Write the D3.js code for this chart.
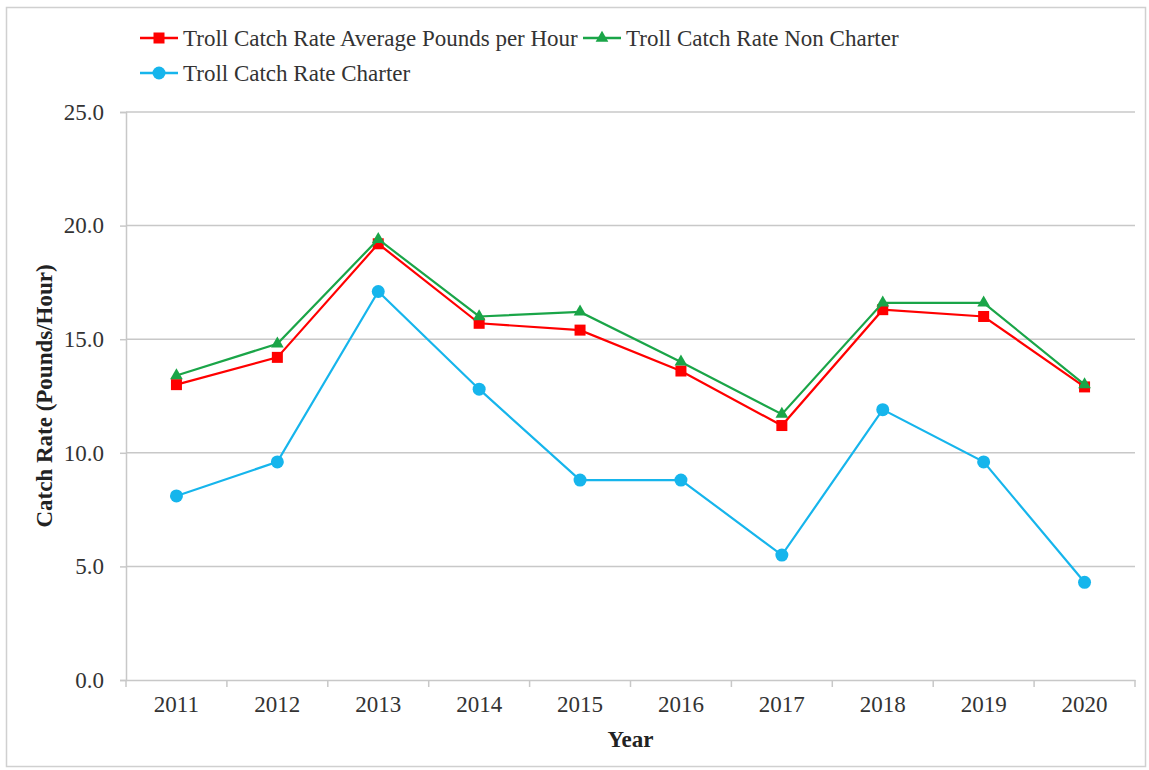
<!DOCTYPE html>
<html><head><meta charset="utf-8">
<script src="https://cdn.jsdelivr.net/npm/d3@7"></script>
<style>body{margin:0;background:#fff;} svg{display:block;font-family:"Liberation Serif","Times New Roman",serif;}</style>
</head><body>
<svg id="c" width="1149" height="770"></svg>
<script>
const years = ["2011","2012","2013","2014","2015","2016","2017","2018","2019","2020"];
const avgRate = [13.0,14.2,19.2,15.7,15.4,13.6,11.2,16.3,16.0,12.9];
const nonCharter = [13.4,14.8,19.4,16.0,16.2,14.0,11.7,16.6,16.6,13.0];
const charter = [8.1,9.6,17.1,12.8,8.8,8.8,5.5,11.9,9.6,4.3];
const yTicks = [0,5,10,15,20,25];
const seriesNames = ["Troll Catch Rate Average Pounds per Hour","Troll Catch Rate Non Charter","Troll Catch Rate Charter"];

const FS = 23;
const svg = d3.select("#c");
svg.append("rect").attr("x",6.5).attr("y",7.5).attr("width",1139).attr("height",759)
  .attr("fill","#fff").attr("stroke","#d0d0d0").attr("stroke-width",1.5);

const L=126, R=1135, T=112, B=680;
const x = d3.scaleBand().domain(years).range([L,R]);
const y = d3.scaleLinear().domain([0,25]).range([B,T]);

// grid
svg.append("g").selectAll("line").data(yTicks.filter(d=>d>0)).join("line")
  .attr("x1",L).attr("x2",R).attr("y1",d=>y(d)).attr("y2",d=>y(d))
  .attr("stroke","#c8c8c8").attr("stroke-width",1.5);

// y axis
const ya = svg.append("g").attr("transform",`translate(${L},0)`)
  .call(d3.axisLeft(y).tickValues(yTicks).tickFormat(d3.format(".1f")).tickSize(6).tickPadding(16));
ya.select(".domain").attr("stroke","#c8c8c8").attr("stroke-width",1.5);
ya.selectAll(".tick line").attr("stroke","#c8c8c8").attr("stroke-width",1.5);
ya.selectAll("text").attr("font-size",FS).attr("fill","#333").attr("font-family","Liberation Serif");

// x axis
const xa = svg.append("g").attr("transform",`translate(0,${B})`)
  .call(d3.axisBottom(x).tickSize(0).tickPadding(16));
xa.select(".domain").attr("stroke","#c8c8c8").attr("stroke-width",1.5);
xa.selectAll("text").attr("font-size",FS).attr("fill","#333").attr("font-family","Liberation Serif");
const bounds = years.map(d=>x(d)).concat([R]);
svg.append("g").selectAll("line").data(bounds).join("line")
  .attr("x1",d=>d).attr("x2",d=>d).attr("y1",B).attr("y2",B+7)
  .attr("stroke","#c8c8c8").attr("stroke-width",1.5);

// titles
svg.append("text").attr("x",(L+R)/2).attr("y",747).attr("text-anchor","middle")
  .attr("font-size",FS).attr("font-weight","bold").attr("fill","#222").text("Year");
svg.append("text").attr("transform",`translate(52,${(T+B)/2}) rotate(-90)`).attr("text-anchor","middle")
  .attr("font-size",FS).attr("font-weight","bold").attr("fill","#222").text("Catch Rate (Pounds/Hour)");

const cx = d => x(d)+x.bandwidth()/2;
const series = [
  {name:seriesNames[0], vals:avgRate, color:"#ff0000", mk:"square"},
  {name:seriesNames[1], vals:nonCharter, color:"#1aa548", mk:"triangle"},
  {name:seriesNames[2], vals:charter, color:"#16b5ec", mk:"circle"}
];
const line = d3.line().x((d,i)=>cx(years[i])).y(d=>y(d));
function marker(g, type, color){
  if(type==="square") g.append("rect").attr("x",-5.5).attr("y",-5.5).attr("width",11).attr("height",11).attr("fill",color);
  else if(type==="triangle") g.append("path").attr("d",d3.symbol(d3.symbolTriangle,70)()).attr("fill",color);
  else g.append("circle").attr("r",6.5).attr("fill",color);
}
[series[2],series[0],series[1]].forEach(s=>{
  svg.append("path").datum(s.vals).attr("d",line).attr("fill","none").attr("stroke",s.color).attr("stroke-width",2.2);
  s.vals.forEach((v,i)=>{
    const g = svg.append("g").attr("transform",`translate(${cx(years[i])},${y(v)})`);
    marker(g,s.mk,s.color);
  });
});

// legend
const leg = [{s:series[0],x:140,y:38},{s:series[1],x:583,y:38},{s:series[2],x:140,y:73}];
leg.forEach(l=>{
  const g = svg.append("g").attr("transform",`translate(${l.x},${l.y})`);
  g.append("line").attr("x1",0).attr("x2",38).attr("y1",0).attr("y2",0).attr("stroke",l.s.color).attr("stroke-width",2.5);
  const m = g.append("g").attr("transform","translate(19,0)");
  marker(m,l.s.mk,l.s.color);
  g.append("text").attr("x",43).attr("y",8).attr("font-size",FS).attr("fill","#333").text(l.s.name);
});
</script>
</body></html>
